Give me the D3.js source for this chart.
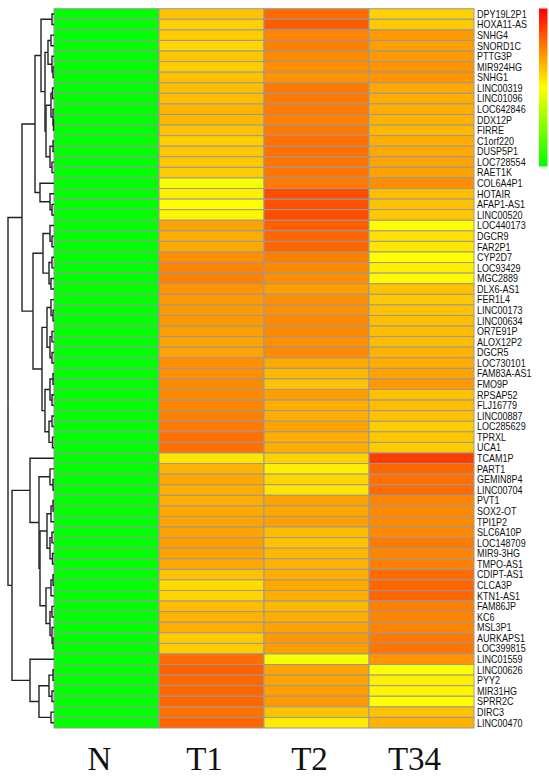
<!DOCTYPE html>
<html>
<head>
<meta charset="utf-8">
<script src="https://cdn.jsdelivr.net/npm/d3@7"></script>
<style>
  body { margin: 0; background: #fff; }
</style>
</head>
<body>
<div id="chart"></div>
<script>
// ---- Data ----
const samples = ["N", "T1", "T2", "T34"];

const genes = [
  "DPY19L2P1", "HOXA11-AS", "SNHG4", "SNORD1C", "PTTG3P", "MIR924HG", "SNHG1", "LINC00319",
  "LINC01096", "LOC642846", "DDX12P", "FIRRE", "C1orf220", "DUSP5P1", "LOC728554", "RAET1K",
  "COL6A4P1", "HOTAIR", "AFAP1-AS1", "LINC00520", "LOC440173", "DGCR9", "FAR2P1", "CYP2D7",
  "LOC93429", "MGC2889", "DLX6-AS1", "FER1L4", "LINC00173", "LINC00634", "OR7E91P", "ALOX12P2",
  "DGCR5", "LOC730101", "FAM83A-AS1", "FMO9P", "RPSAP52", "FLJ16779", "LINC00887", "LOC285629",
  "TPRXL", "UCA1", "TCAM1P", "PART1", "GEMIN8P4", "LINC00704", "PVT1", "SOX2-OT",
  "TPI1P2", "SLC6A10P", "LOC148709", "MIR9-3HG", "TMPO-AS1", "CDIPT-AS1", "CLCA3P", "KTN1-AS1",
  "FAM86JP", "KC6", "MSL3P1", "AURKAPS1", "LOC399815", "LINC01559", "LINC00626", "PYY2",
  "MIR31HG", "SPRR2C", "DIRC3", "LINC00470"
];

// relative expression, 0 = green, 0.5 = yellow, 1 = red
const nValues = [
  0, 0, 0, 0, 0, 0, 0, 0, 0, 0, 0, 0, 0, 0, 0, 0, 0,
  0, 0, 0, 0, 0, 0, 0, 0, 0, 0, 0, 0, 0, 0, 0, 0, 0,
  0, 0, 0, 0, 0, 0, 0, 0, 0, 0, 0, 0, 0, 0, 0, 0, 0,
  0, 0, 0, 0, 0, 0, 0, 0, 0, 0, 0, 0, 0, 0, 0, 0, 0
];
const t1Values = [
  0.62, 0.59, 0.60, 0.58, 0.61, 0.60, 0.62, 0.63, 0.63, 0.65,
  0.64, 0.62, 0.60, 0.61, 0.61, 0.60, 0.48, 0.53, 0.50, 0.52,
  0.68, 0.66, 0.67, 0.72, 0.74, 0.75, 0.71, 0.70, 0.70, 0.70,
  0.69, 0.68, 0.68, 0.72, 0.72, 0.73, 0.73, 0.74, 0.75, 0.76,
  0.78, 0.78, 0.55, 0.65, 0.67, 0.66, 0.66, 0.67, 0.68, 0.68,
  0.69, 0.68, 0.67, 0.62, 0.57, 0.58, 0.63, 0.65, 0.66, 0.60,
  0.60, 0.79, 0.81, 0.80, 0.80, 0.80, 0.78, 0.80
];
const t2Values = [
  0.79, 0.82, 0.74, 0.75, 0.73, 0.72, 0.71, 0.76, 0.76, 0.76,
  0.75, 0.76, 0.78, 0.78, 0.77, 0.77, 0.76, 0.85, 0.84, 0.85,
  0.81, 0.80, 0.80, 0.75, 0.73, 0.72, 0.69, 0.72, 0.72, 0.73,
  0.73, 0.72, 0.73, 0.67, 0.64, 0.62, 0.69, 0.66, 0.66, 0.68,
  0.66, 0.66, 0.59, 0.53, 0.58, 0.55, 0.68, 0.67, 0.69, 0.63,
  0.62, 0.64, 0.65, 0.66, 0.67, 0.66, 0.64, 0.66, 0.68, 0.70,
  0.69, 0.48, 0.68, 0.68, 0.69, 0.70, 0.62, 0.54
];
const t34Values = [
  0.59, 0.60, 0.70, 0.69, 0.70, 0.71, 0.71, 0.67, 0.66, 0.66,
  0.65, 0.64, 0.66, 0.67, 0.68, 0.68, 0.72, 0.63, 0.62, 0.61,
  0.50, 0.56, 0.55, 0.50, 0.53, 0.51, 0.62, 0.61, 0.62, 0.63,
  0.63, 0.63, 0.65, 0.66, 0.68, 0.70, 0.62, 0.63, 0.62, 0.60,
  0.61, 0.60, 0.88, 0.80, 0.78, 0.79, 0.74, 0.73, 0.73, 0.73,
  0.76, 0.74, 0.75, 0.79, 0.80, 0.80, 0.75, 0.74, 0.74, 0.76,
  0.77, 0.71, 0.50, 0.53, 0.52, 0.50, 0.62, 0.65
];

// row dendrogram: [mergeHeight, left, right], leaves are row indices
const rowTree = [46,
  [32,
    [19,
      [13,
        [2, 0, 1],
        [9,
          [6, [3, 2, 3], [2, 4, [1, 5, 6]]],
          [8,
            [3, [1.5, 7, 8], [1, 9, [0.5, 10, 11]]],
            [4, [1, 12, 13], [2, 14, 15]]]]],
      [14, 16, [4, 17, [2, 18, 19]]]],
    [21,
      [11,
        [4, 20, [2, 21, 22]],
        [5, [2, 23, 24], [3, 25, 26]]],
      [12,
        [7, [3, 27, [1, 28, 29]], [4, [2, 30, 31], [2, 32, 33]]],
        [9, [4, [1, 34, 35], [2, 36, 37]], [5, [2, 38, 39], [1.5, 40, 41]]]]]],
  [42,
    [24, 42,
      [15,
        [4, 43, [1, 44, 45]],
        [14,
          [7, [3, [1, 46, 47], 48], [4, [2, 49, 50], [1.5, 51, 52]]],
          [8, [3, [1, 53, 54], 55], [4, [2, 56, 57], [2, 58, [1, 59, 60]]]]]]],
    [24, 61,
      [15, [5, [1, 62, 63], [2, 64, 65]], [3, 66, 67]]]]
];

// ---- Layout ----
const width = 549, height = 778;
const heat = { left: 54, right: 474, top: 8.7, bottom: 728 };

const svg = d3.select("#chart")
  .append("svg")
  .attr("width", width)
  .attr("height", height);

const x = d3.scaleBand().domain(samples).range([heat.left, heat.right]);
const y = d3.scaleBand().domain(genes).range([heat.top, heat.bottom]);

const color = d3.scaleLinear()
  .domain([0, 0.5, 1])
  .range(["#00ff00", "#ffff00", "#ff0000"])
  .interpolate(d3.interpolateRgb);

const columns = [nValues, t1Values, t2Values, t34Values];
const cells = [];
samples.forEach((s, j) => {
  genes.forEach((g, i) => cells.push({ sample: s, gene: g, value: columns[j][i] }));
});

// ---- Heatmap cells ----
svg.append("g")
  .selectAll("rect")
  .data(cells)
  .enter()
  .append("rect")
  .attr("x", d => x(d.sample))
  .attr("y", d => y(d.gene))
  .attr("width", x.bandwidth())
  .attr("height", y.bandwidth())
  .attr("fill", d => color(d.value))
  .attr("stroke", "#999")
  .attr("stroke-width", 1);

// ---- Row labels ----
svg.append("g")
  .selectAll("text")
  .data(genes)
  .enter()
  .append("text")
  .attr("transform", d => `translate(${heat.right + 3},${y(d) + y.bandwidth() / 2 + 3.8}) scale(0.86,1)`)
  .attr("font-family", "Liberation Sans, Arial, sans-serif")
  .attr("font-size", 10.5)
  .attr("fill", "#111")
  .text(d => d);

// ---- Column labels ----
svg.append("g")
  .selectAll("text")
  .data(samples)
  .enter()
  .append("text")
  .attr("x", d => x(d) + x.bandwidth() / 2 - 7)
  .attr("y", 770)
  .attr("text-anchor", "middle")
  .attr("font-family", "Liberation Serif, Times New Roman, serif")
  .attr("font-size", 33)
  .attr("fill", "#111")
  .text(d => d);

// ---- Dendrogram ----
const root = d3.hierarchy(rowTree, d => Array.isArray(d) ? d.slice(1) : null);
const dx = d3.scaleLinear().domain([0, rowTree[0]]).range([heat.left, 8]);

root.eachAfter(n => {
  if (n.children) {
    n.px = dx(n.data[0]);
    n.py = d3.mean(n.children, c => c.py);
  } else {
    n.px = dx(0);
    n.py = y(genes[n.data]) + y.bandwidth() / 2;
  }
});

svg.append("g")
  .selectAll("path")
  .data(root.links())
  .enter()
  .append("path")
  .attr("d", l => `M${l.target.px},${l.target.py}H${l.source.px}V${l.source.py}`)
  .attr("fill", "none")
  .attr("stroke", "#222")
  .attr("stroke-width", 1.4);

// ---- Colour key ----
const key = { x: 539, y: 8.5, w: 8.5, h: 158 };
const grad = svg.append("defs")
  .append("linearGradient")
  .attr("id", "keygrad")
  .attr("x1", 0).attr("y1", 0)
  .attr("x2", 0).attr("y2", 1);
grad.selectAll("stop")
  .data([1, 0.5, 0])
  .enter()
  .append("stop")
  .attr("offset", (d, i) => i / 2)
  .attr("stop-color", d => color(d));

svg.append("rect")
  .attr("x", key.x)
  .attr("y", key.y)
  .attr("width", key.w)
  .attr("height", key.h)
  .attr("fill", "url(#keygrad)");
</script>
</body>
</html>
